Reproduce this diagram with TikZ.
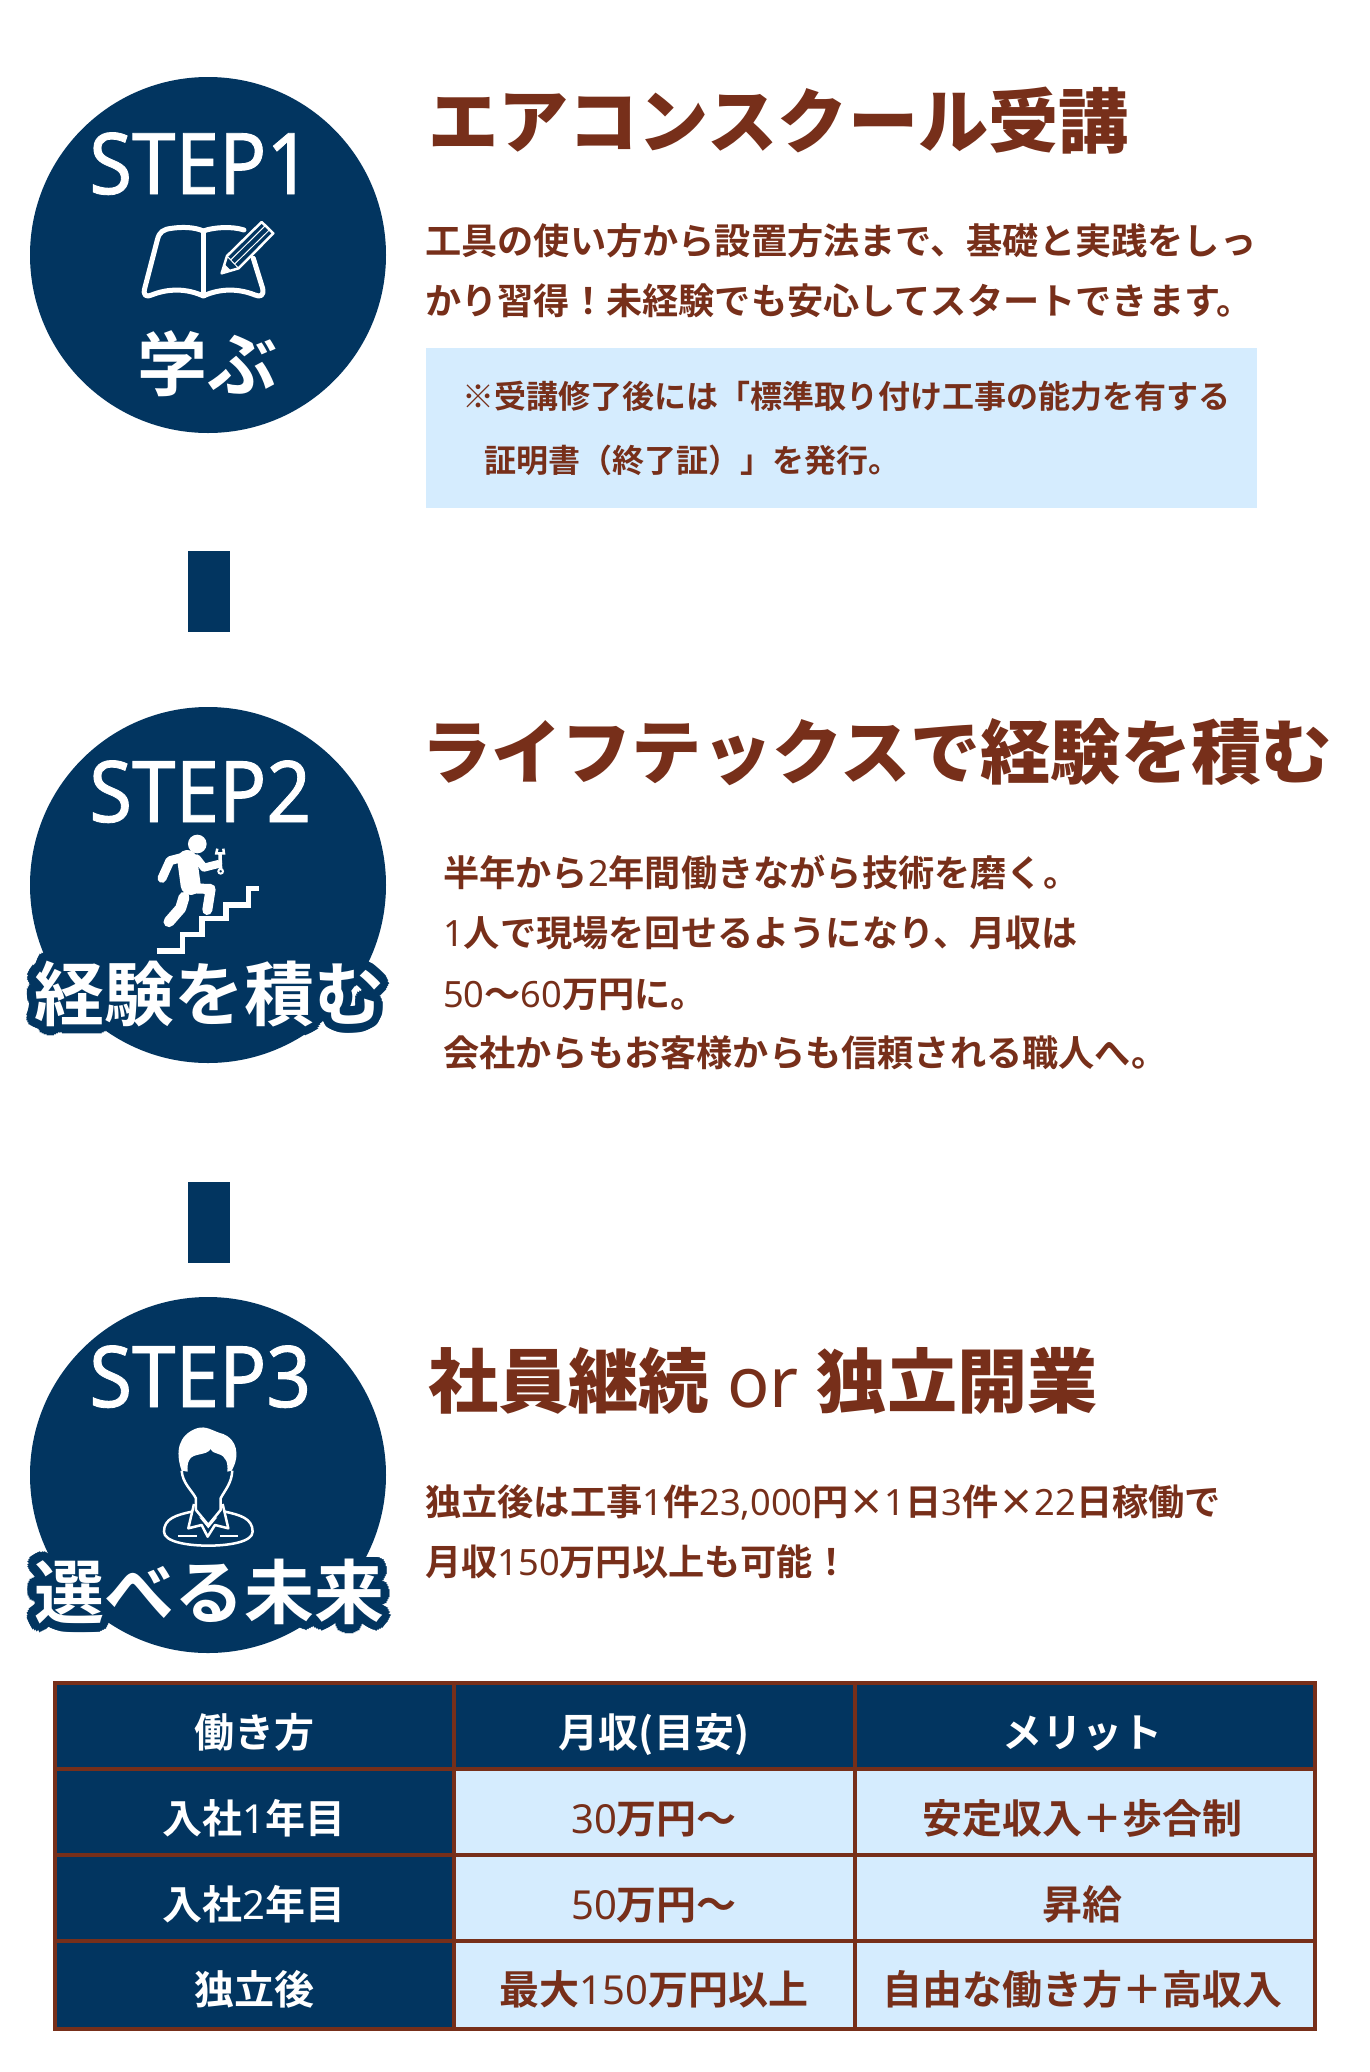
\documentclass[tikz,border=0pt]{standalone}
\usepackage{fontspec}
\setmainfont{Noto Sans CJK JP}[BoldFont=*]
\newfontfamily\jpbold{Noto Sans CJK JP Bold}
\newfontfamily\jpblack{Noto Sans CJK JP Black}
\newfontfamily\latfam{Noto Sans}
\newfontfamily\stepfont{Noto Sans}[FakeStretch=.92,FakeBold=1]
\newcommand{\lat}[1]{{\latfam\bfseries #1}}
\definecolor{navyc}{HTML}{023560}
\definecolor{brownc}{HTML}{772F1A}
\definecolor{paleblue}{HTML}{D5ECFE}
\tikzset{
  stepcirc/.style={circle, fill=navyc, inner sep=0, minimum size=356pt},
  stepbar/.style={rectangle, fill=navyc, inner sep=0, minimum width=42pt, minimum height=81pt},
  stepnum/.style={anchor=base west, inner sep=0, text=white, font=\fontsize{85}{85}\selectfont\stepfont},
  steplab/.style={anchor=base west, inner sep=0, text=white, font=\fontsize{70}{70}\selectfont\jpbold},
  title/.style={anchor=base west, inner sep=0, text=brownc, font=\fontsize{70.2}{70}\selectfont\jpblack},
  bodytxt/.style={anchor=base west, inner sep=0, text=brownc, font=\fontsize{36.2}{36}\selectfont\jpbold},
  notetxt/.style={anchor=base west, inner sep=0, text=brownc, font=\fontsize{32}{32}\selectfont\jpbold},
  cell/.style={rectangle, draw=brownc, line width=4pt, inner sep=0, minimum height=90pt,
    text height=39pt, text depth=1pt, font=\fontsize{40}{40}\selectfont\jpbold,
    execute at end node=\kern5pt},
  headcell/.style={cell, fill=navyc, text=white},
  bodycell/.style={cell, fill=paleblue, text=brownc}
}
\begin{document}
\begin{tikzpicture}[x=1pt,y=-1pt]
\useasboundingbox (0,0) rectangle (1370,2072);

% circles and bars
\node[stepcirc] (step1) at (208,255) {};
\node[stepcirc] (step2) at (208,885) {};
\node[stepcirc] (step3) at (208,1475) {};
\node[stepbar] (bar1) at (209,591) {};
\node[stepbar] (bar2) at (209,1222) {};

% circle texts
\node[stepnum] (num1) at (89,194) {STEP1};
\node[stepnum] (num2) at (89,822) {STEP2};
\node[stepnum] (num3) at (89,1407) {STEP3};
\node[steplab] (lab1) at (137,390) {学ぶ};
\foreach \nm/\py/\lab in {two/1020/経験を積む,three/1618/選べる未来}{
  \foreach \a in {0,15,...,345}
    \node[steplab, text=navyc] (halo\nm\a) at ([shift={(\a:9)}]34,\py) {\lab};
  \node[steplab] (lab\nm) at (34,\py) {\lab};
}

% book and pencil
\begin{scope}[shift={(0,50)},x=.3333pt,y=-.3333pt]
\draw[white, line width=5pt, line join=round, line cap=round]
  (760,625) -- (788,715) .. controls (793,738) and (780,742) .. (765,735)
  .. controls (715,715) and (660,715) .. (610,738)
  .. controls (560,715) and (505,715) .. (455,735)
  .. controls (440,742) and (427,738) .. (435,712)
  -- (472,570) .. controls (478,545) and (490,538) .. (515,535)
  .. controls (550,530) and (585,532) .. (610,543)
  .. controls (640,532) and (695,528) .. (732,540);
\draw[white, line width=5pt] (610,543) -- (610,745);
\draw[white, line width=2.5pt, fill=navyc, line join=round]
  (681,618) -- (785,516) -- (820,550) -- (716,655) -- (665,670) -- cycle;
\draw[white, line width=1pt] (681,618) -- (716,655) (692,630) -- (795,528) (704,642) -- (808,540);
\fill[white] (665,670) -- (673,642) -- (693,662) -- cycle;
\end{scope}

% worker on stairs
\begin{scope}[shift={(0,690)},x=.3333pt,y=-.3333pt]
\fill[white] (592,462) circle (28);
\draw[white, line width=9pt, line cap=round, line join=round] (548,502) -- (510,512) -- (486,565);
\draw[white, line width=8pt, line cap=round, line join=round] (590,505) -- (612,533) -- (655,522);
\draw[white, line width=20pt, line cap=round] (562,510) -- (572,585);
\draw[white, line width=10pt, line cap=round, line join=round] (575,595) -- (632,597) -- (622,660);
\draw[white, line width=11pt, line cap=round, line join=round] (552,622) -- (542,655) -- (507,695);
\draw[white, line width=3.5pt] (660,492) -- (662,540);
\draw[white, line width=2.5pt] (652,476) -- (649,490) -- (672,490) -- (670,476);
\draw[white, line width=2pt, fill=navyc] (662,544) circle (7);
\draw[white, line width=5.5pt, line cap=butt, miter limit=4]
  (470,783) -- (547,783) -- (547,733) -- (606,733) -- (606,685) -- (678,685)
  -- (678,645) -- (745,645) -- (745,595) -- (778,595);
\end{scope}

% person with collar
\begin{scope}[shift={(0,1280)},x=.3333pt,y=-.3333pt]
\fill[white] (545,572) .. controls (525,515) and (535,465) .. (590,445)
  .. controls (620,435) and (640,455) .. (670,462)
  .. controls (710,478) and (722,525) .. (695,572)
  -- (682,575) .. controls (685,550) and (678,528) .. (655,522)
  .. controls (645,520) and (635,515) .. (632,507)
  .. controls (620,528) and (578,518) .. (568,540)
  .. controls (562,550) and (562,565) .. (563,575) -- cycle;
\draw[white, line width=2.5pt, line join=round]
  (545,572) .. controls (548,610) and (575,630) .. (588,655) -- (588,690) -- (625,735)
  -- (662,690) -- (662,655) .. controls (675,630) and (695,610) .. (697,572);
\fill[white] (598,712) -- (625,745) -- (652,712) -- (640,715) -- (625,733) -- (610,715) -- cycle;
\draw[white, line width=2.5pt, line join=round]
  (582,672) -- (565,745) -- (605,735) -- (623,770) -- (645,735) -- (685,745) -- (668,672);
\draw[white, line width=2.5pt, line join=round]
  (575,695) .. controls (530,705) and (492,715) .. (492,755)
  .. controls (492,785) and (560,797) .. (625,797)
  .. controls (690,797) and (758,785) .. (758,755)
  .. controls (758,715) and (720,705) .. (675,695);
\draw[white, line width=2pt] (535,767) -- (590,767) (660,767) -- (715,767);
\end{scope}

% step 1 text
\node[title] (title1) at (428,147) {エアコンスクール受講};
\node[bodytxt] (body11) at (425,254) {工具の使い方から設置方法まで、基礎と実践をしっ};
\node[bodytxt] (body12) at (425,314) {かり習得！未経験でも安心してスタートできます。};
\node[rectangle, fill=paleblue, inner sep=0, minimum width=831pt, minimum height=160pt] (notebox) at (841.5,428) {};
\node[notetxt] (note1) at (462,408) {※受講修了後には「標準取り付け工事の能力を有する};
\node[notetxt] (note2) at (484,472) {証明書（終了証）」を発行。};

% step 2 text
\node[title] (title2) at (421,778) {ライフテックスで経験を積む};
\node[bodytxt] (body21) at (443,886) {半年から\lat{2}年間働きながら技術を磨く。};
\node[bodytxt] (body22) at (443,946) {\lat{1}人で現場を回せるようになり、月収は};
\node[bodytxt] (body23) at (443,1007) {\lat{50}〜\lat{60}万円に。};
\node[bodytxt] (body24) at (443,1066) {会社からもお客様からも信頼される職人へ。};

% step 3 text
\node[title] (title3) at (428,1407) {社員継続\lat{ or }独立開業};
\node[bodytxt] (body31) at (425,1515) {独立後は工事\lat{1}件\lat{23,000}円×\lat{1}日\lat{3}件×\lat{22}日稼働で};
\node[bodytxt] (body32) at (425,1575) {月収\lat{150}万円以上も可能！};

% table
\node[headcell, minimum width=403pt] (c11) at (256.5,1728) {働き方};
\node[headcell, minimum width=405pt] (c12) at (656.5,1728) {月収(目安)};
\node[headcell, minimum width=460pt] (c13) at (1085,1728) {メリット};
\node[headcell, minimum width=403pt] (c21) at (256.5,1814) {入社\lat{1}年目};
\node[bodycell, minimum width=405pt] (c22) at (656.5,1814) {\lat{30}万円〜};
\node[bodycell, minimum width=460pt] (c23) at (1085,1814) {安定収入＋歩合制};
\node[headcell, minimum width=403pt] (c31) at (256.5,1900) {入社\lat{2}年目};
\node[bodycell, minimum width=405pt] (c32) at (656.5,1900) {\lat{50}万円〜};
\node[bodycell, minimum width=460pt] (c33) at (1085,1900) {昇給};
\node[headcell, minimum width=403pt, minimum height=88pt] (c41) at (256.5,1985) {独立後};
\node[bodycell, minimum width=405pt, minimum height=88pt] (c42) at (656.5,1985) {最大\lat{150}万円以上};
\node[bodycell, minimum width=460pt, minimum height=88pt] (c43) at (1085,1985) {自由な働き方＋高収入};
\end{tikzpicture}
\end{document}
